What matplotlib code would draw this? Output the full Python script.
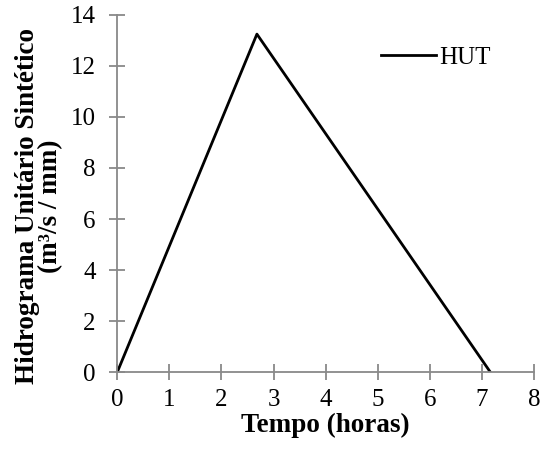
import matplotlib.pyplot as plt

# hidrograma unitario triangular
tempo = [0, 2.68, 7.16]
vazao = [0, 13.25, 0]
x_ticks = [0, 1, 2, 3, 4, 5, 6, 7, 8]
y_ticks = [0, 2, 4, 6, 8, 10, 12, 14]

plt.rcParams['font.family'] = ['Liberation Serif', 'DejaVu Serif']

fig = plt.figure(figsize=(5.49, 4.5), dpi=100)
ax = fig.add_axes([0.2137, 0.1733, 0.759, 0.7934])

ax.plot(tempo, vazao, color='black', linewidth=2, label='HUT')

ax.set_xlim(0, 8)
ax.set_ylim(0, 14)
ax.set_xticks(x_ticks)
ax.set_yticks(y_ticks)

for s in ['top', 'right']:
    ax.spines[s].set_visible(False)
for s in ['left', 'bottom']:
    ax.spines[s].set_color('#898989')
    ax.spines[s].set_linewidth(1.3)

ax.tick_params(direction='inout', length=11, width=1.3, color='#898989',
               labelsize=18)
ax.tick_params(axis='x', pad=7)
ax.tick_params(axis='y', pad=10)

ax.set_xlabel('Tempo (horas)', fontsize=19.5, fontweight='bold', labelpad=1)
ax.set_ylabel('Hidrograma Unitário Sintético\n(m³/s / mm)', fontsize=19.5,
              fontweight='bold', linespacing=0.9)
ax.yaxis.set_label_coords(-0.13, 0.465)

ax.legend(loc='center left', bbox_to_anchor=(0.632, 0.88), frameon=False,
          fontsize=18, handlelength=2.2, handletextpad=0.16,
          borderpad=0, borderaxespad=0)

fig.savefig('out.png', dpi=100)
